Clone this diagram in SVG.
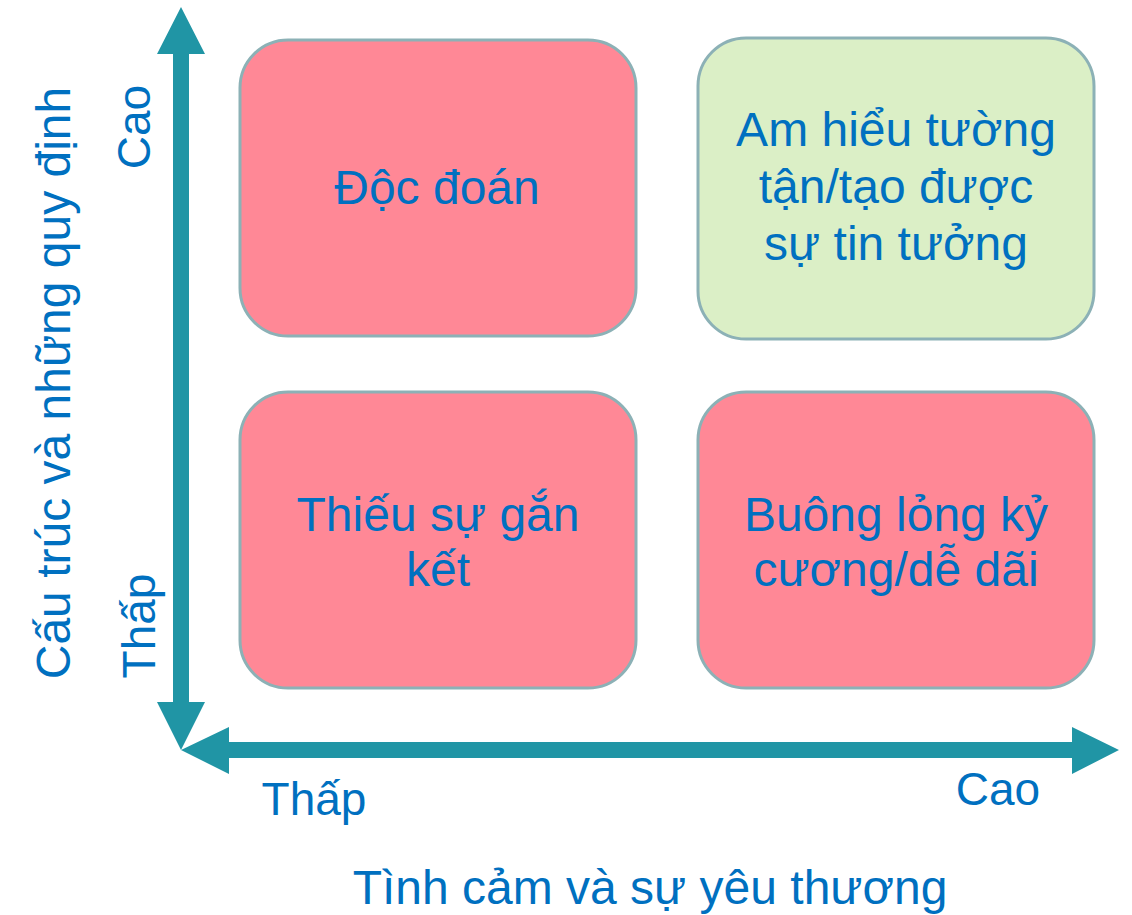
<svg xmlns="http://www.w3.org/2000/svg" width="1132" height="915" viewBox="0 0 1132 915">
  <style>
    .box { stroke: #8cb1b6; stroke-width: 3; }
    .bad { fill: #ff8896; }
    .good { fill: #dbefc6; }
    .lbl { font-family: "Liberation Sans", Arial, sans-serif; fill: #0070c0; text-anchor: middle; }
    .cell { font-size: 48px; }
    .axis { font-size: 46px; }
    .title { font-size: 48px; }
    .arrow { fill: #2095a5; }
  </style>
  <rect width="1132" height="915" fill="#ffffff"/>

  <!-- double-headed axes -->
  <g id="connectors">
    <polygon class="arrow" points="181,7 205,54 189,54 189,702 205,702 181,750 157,702 173,702 173,54 157,54"/>
    <polygon class="arrow" points="181,750 229,727 229,742 1072,742 1072,727 1119,750 1072,774 1072,758 229,758 229,774"/>
  </g>

  <g id="node-autocratic">
    <rect class="box bad" x="240" y="40" width="396" height="296" rx="48"/>
    <text class="lbl cell" x="437" y="204">Độc đoán</text>
  </g>

  <g id="node-trust">
    <rect class="box good" x="698" y="38" width="396" height="301" rx="48"/>
    <text class="lbl cell" x="896" y="146">Am hiểu tường</text>
    <text class="lbl cell" x="896" y="203">tận/tạo được</text>
    <text class="lbl cell" x="896" y="260">sự tin tưởng</text>
  </g>

  <g id="node-disengaged">
    <rect class="box bad" x="240" y="392" width="396" height="296" rx="48"/>
    <text class="lbl cell" x="438" y="531">Thiếu sự gắn</text>
    <text class="lbl cell" x="438" y="586">kết</text>
  </g>

  <g id="node-permissive">
    <rect class="box bad" x="698" y="392" width="396" height="296" rx="48"/>
    <text class="lbl cell" x="896" y="531">Buông lỏng kỷ</text>
    <text class="lbl cell" x="896" y="586">cương/dễ dãi</text>
  </g>

  <g id="axis-labels">
    <text class="lbl axis" x="314" y="815">Thấp</text>
    <text class="lbl axis" x="998" y="805">Cao</text>
    <text class="lbl axis" transform="translate(150,127) rotate(-90)">Cao</text>
    <text class="lbl axis" transform="translate(155,626) rotate(-90)">Thấp</text>
    <text class="lbl title" x="650" y="904">Tình cảm và sự yêu thương</text>
    <text class="lbl title" transform="translate(70,383) rotate(-90)">Cấu trúc và những quy định</text>
  </g>
</svg>
